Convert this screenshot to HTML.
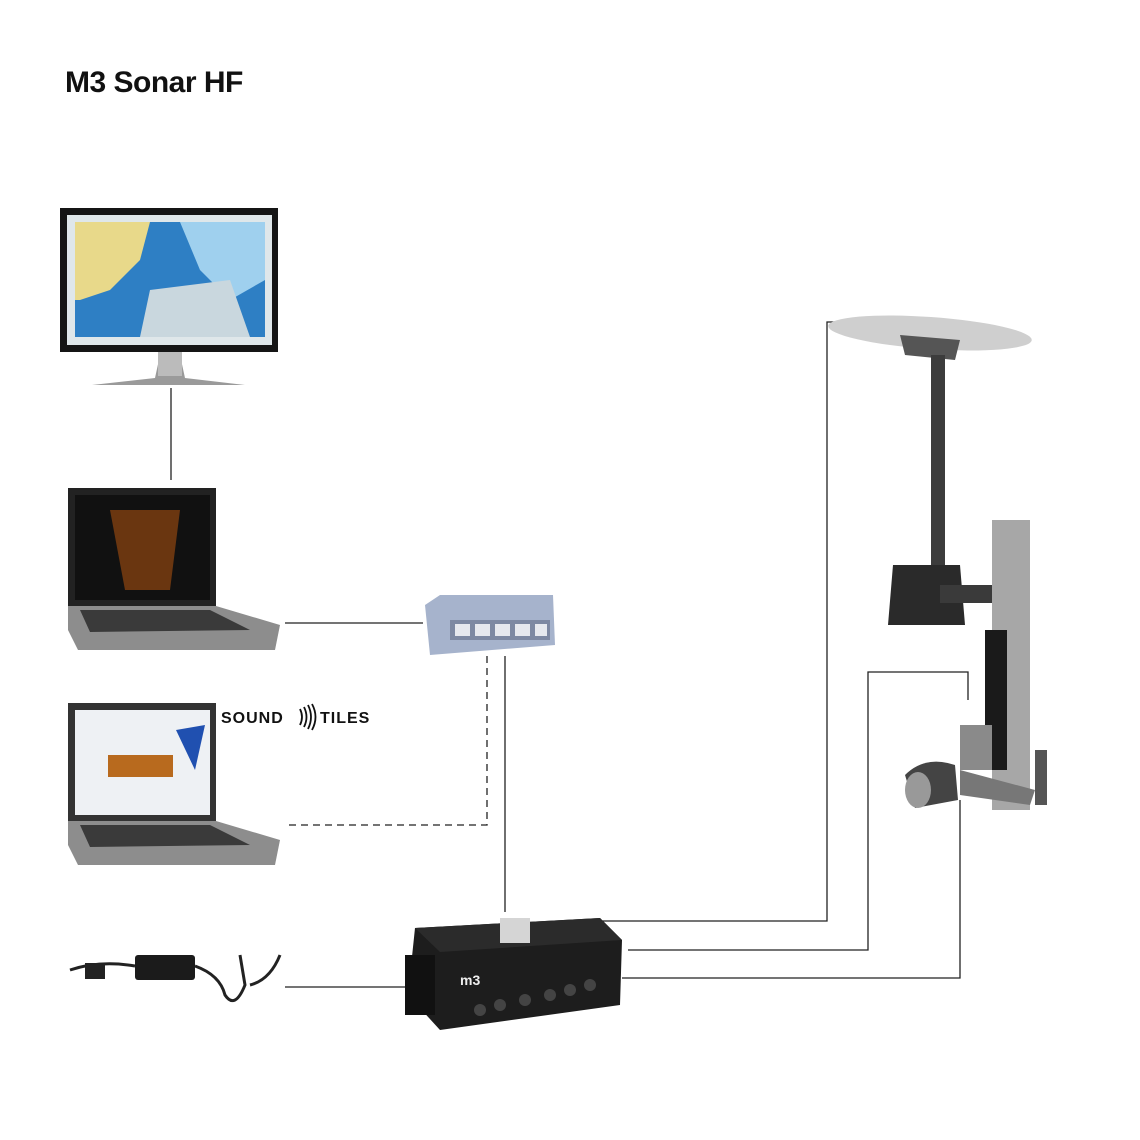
<!DOCTYPE html>
<html><head><meta charset="utf-8"><style>
body{margin:0;width:1140px;height:1140px;background:#fff;position:relative;overflow:hidden;font-family:"Liberation Sans",sans-serif}
.a{position:absolute}
</style></head><body>
<div class="a" style="left:65px;top:66px;font-size:30px;font-weight:bold;letter-spacing:-0.5px;color:#111">M3 Sonar HF</div>
<svg class="a" style="left:0;top:0" width="1140" height="1140" viewBox="0 0 1140 1140">
<g stroke="#222" stroke-width="1.3" fill="none">
<line x1="171" y1="388" x2="171" y2="480"/>
<line x1="285" y1="623" x2="423" y2="623"/>
<line x1="505" y1="656" x2="505" y2="912"/>
<polyline points="487,656 487,825 285,825" stroke-dasharray="7,5"/>
<line x1="285" y1="987" x2="412" y2="987"/>
<polyline points="580,921 827,921 827,322 838,322"/>
<polyline points="628,950 868,950 868,672 968,672 968,700"/>
<polyline points="622,978 960,978 960,800"/>
</g>
<rect x="60" y="208" width="218" height="144" fill="#151515"/>
<rect x="67" y="215" width="205" height="130" fill="#dfe7ea"/>
<rect x="75" y="222" width="190" height="115" fill="#2e7fc4"/>
<path d="M75 222 L150 222 L140 260 L110 290 L80 300 L75 300Z" fill="#e8d98a"/>
<path d="M180 222 L265 222 L265 280 L230 300 L200 270Z" fill="#9fd0ee"/>
<path d="M150 290 L230 280 L250 337 L140 337Z" fill="#c9d7de"/>
<path d="M160 355 L180 355 L185 378 L245 385 L92 385 L155 378Z" fill="#9a9a9a"/>
<rect x="158" y="352" width="24" height="24" fill="#bbb"/>
<rect x="68" y="488" width="148" height="118" fill="#222"/>
<rect x="75" y="495" width="135" height="105" fill="#111"/>
<path d="M110 510 L180 510 L170 590 L125 590Z" fill="#6a3610"/>
<path d="M68 606 L216 606 L280 625 L275 650 L78 650 L68 630Z" fill="#8d8d8d"/>
<path d="M80 610 L210 610 L250 630 L90 632Z" fill="#3a3a3a"/>
<path d="M425 605 L440 595 L553 595 L555 645 L430 655 Z" fill="#a6b3cc"/>
<rect x="450" y="620" width="100" height="20" fill="#7d89a3"/>
<g fill="#e6e9ef"><rect x="455" y="624" width="15" height="12"/><rect x="475" y="624" width="15" height="12"/><rect x="495" y="624" width="15" height="12"/><rect x="515" y="624" width="15" height="12"/><rect x="535" y="624" width="12" height="12"/></g>
<rect x="68" y="703" width="148" height="118" fill="#333"/>
<rect x="75" y="710" width="135" height="105" fill="#eef1f4"/>
<rect x="108" y="755" width="65" height="22" fill="#b86a1e"/>
<path d="M176 730 L205 725 L195 770 Z" fill="#2050b0"/>
<path d="M68 821 L216 821 L280 840 L275 865 L78 865 L68 845Z" fill="#8d8d8d"/>
<path d="M80 825 L210 825 L250 845 L90 847Z" fill="#3a3a3a"/>
<rect x="135" y="955" width="60" height="25" rx="3" fill="#1b1b1b"/>
<path d="M70 970 Q100 960 135 966 M195 966 Q220 975 225 995 Q235 1010 245 985 L240 955 M250 985 Q270 980 280 955" stroke="#222" stroke-width="3" fill="none"/>
<rect x="85" y="963" width="20" height="16" fill="#222"/>
<path d="M415 928 L600 918 L622 940 L620 1005 L440 1030 L408 995 Z" fill="#1d1d1d"/>
<path d="M415 928 L600 918 L622 940 L440 952 Z" fill="#2b2b2b"/>
<rect x="500" y="918" width="30" height="25" fill="#d5d5d5"/>
<rect x="405" y="955" width="30" height="60" fill="#111"/>
<g fill="#444"><circle cx="480" cy="1010" r="6"/><circle cx="500" cy="1005" r="6"/><circle cx="525" cy="1000" r="6"/><circle cx="550" cy="995" r="6"/><circle cx="570" cy="990" r="6"/><circle cx="590" cy="985" r="6"/></g>
<text x="460" y="985" fill="#eee" font-size="14" font-weight="bold" font-family="Liberation Sans">m3</text>
<ellipse cx="930" cy="333" rx="102" ry="16" fill="#cfcfcf" transform="rotate(4 930 333)"/>
<path d="M900 335 L960 340 L955 360 L905 355Z" fill="#555"/>
<rect x="931" y="355" width="14" height="210" fill="#3c3c3c"/>
<path d="M893 565 L960 565 L965 625 L888 625 Z" fill="#2a2a2a"/>
<rect x="940" y="585" width="55" height="18" fill="#3a3a3a"/>
<rect x="992" y="520" width="38" height="290" fill="#a7a7a7"/>
<rect x="985" y="630" width="22" height="140" fill="#1a1a1a"/>
<rect x="960" y="725" width="32" height="45" fill="#8a8a8a"/>
<path d="M960 770 L1035 790 L1030 805 L960 795Z" fill="#777"/>
<path d="M905 775 Q925 755 955 765 L958 800 L915 808Z" fill="#444"/>
<ellipse cx="918" cy="790" rx="13" ry="18" fill="#999"/>
<rect x="1035" y="750" width="12" height="55" fill="#555"/>
<text x="221" y="723" font-size="16" font-weight="bold" font-family="Liberation Sans" fill="#111" letter-spacing="1">SOUND</text>
<g stroke="#111" stroke-width="1.8" fill="none"><path d="M300 709 q4 8 0 16 M304 707 q5 10 0 20 M308 705 q6 12 0 24 M312 704 q7 13 0 26"/></g>
<text x="320" y="723" font-size="16" font-weight="bold" font-family="Liberation Sans" fill="#111" letter-spacing="1">TILES</text>
</svg>
</body></html>
